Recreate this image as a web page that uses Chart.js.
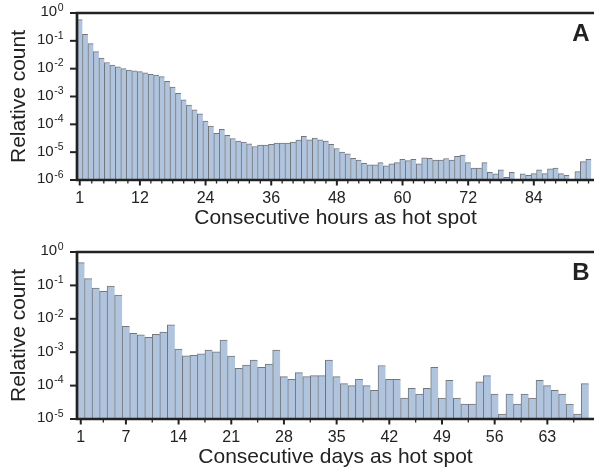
<!DOCTYPE html>
<html>
<head>
<meta charset="utf-8">
<title>Consecutive time as hot spot</title>
<script src="https://cdn.jsdelivr.net/npm/chart.js@4.4.1/dist/chart.umd.min.js"></script>
<style>
  html, body { margin: 0; padding: 0; background: #fff; }
  canvas { display: block; }
</style>
</head>
<body>
<canvas id="panel-a" width="594" height="235"></canvas>
<canvas id="panel-b" width="594" height="236"></canvas>
<script>
// Panel A: run length in hours (1 h bins)
const hourBins = Array.from({ length: 94 }, (_, i) => i + 1);
const hourCounts = [
  0.575, 0.17, 0.079, 0.041, 0.024, 0.0166, 0.0135, 0.0117, 0.0100, 0.0089,
  0.0083, 0.0078, 0.0071, 0.0063, 0.0059, 0.0052, 0.0035, 0.0022, 0.0013, 7.6e-4,
  4.9e-4, 3.3e-4, 2.4e-4, 1.3e-4, 8.7e-5, 4.8e-5, 6.6e-5, 4.0e-5, 3.1e-5, 2.5e-5,
  2.3e-5, 2.0e-5, 1.6e-5, 1.8e-5, 1.8e-5, 1.9e-5, 2.1e-5, 2.1e-5, 2.1e-5, 2.3e-5,
  2.7e-5, 3.7e-5, 2.8e-5, 3.2e-5, 2.8e-5, 2.5e-5, 1.9e-5, 1.35e-5, 1.0e-5, 8.7e-6,
  6.0e-6, 5.2e-6, 4.0e-6, 3.5e-6, 3.5e-6, 4.2e-6, 3.2e-6, 3.8e-6, 4.2e-6, 5.5e-6,
  5.0e-6, 5.5e-6, 3.8e-6, 6.3e-6, 6.0e-6, 5.2e-6, 5.2e-6, 5.9e-6, 5.2e-6, 7.1e-6,
  7.8e-6, 4.2e-6, 2.7e-6, 2.7e-6, 4.2e-6, 1.9e-6, 1.66e-6, 2.3e-6, 1.26e-6, 1.9e-6,
  null, 1.66e-6, 1.48e-6, 1.7e-6, 2.3e-6, 1.7e-6, 2.5e-6, 2.7e-6, 1.7e-6, 1.48e-6,
  null, 2.0e-6, 4.6e-6, 5.5e-6
];
const hourTicks = [1, 12, 24, 36, 48, 60, 72, 84];
const hourMinorTicks = [3.2, 5.4, 7.6, 9.8, 14, 16, 18, 20, 22, 26, 28, 30, 32, 34,
  38, 40, 42, 44, 46, 50, 52, 54, 56, 58, 62, 64, 66, 68, 70, 74, 76, 78, 80, 82,
  86, 88, 90, 92, 94];

// Panel B: run length in days (1 d bins)
const dayBins = Array.from({ length: 68 }, (_, i) => i + 1);
const dayCounts = [
  0.48, 0.16, 0.083, 0.066, 0.095, 0.051, 0.0060, 0.0037, 0.0033, 0.0028,
  0.0034, 0.0040, 0.0066, 0.00123, 7.8e-4, 8.1e-4, 8.9e-4, 1.15e-3, 1.02e-3, 2.3e-3,
  7.6e-4, 3.3e-4, 4.1e-4, 5.8e-4, 3.5e-4, 4.4e-4, 1.15e-3, 1.86e-4, 1.55e-4, 2.45e-4,
  1.86e-4, 2.0e-4, 2.0e-4, 5.8e-4, 1.86e-4, 1.15e-4, 1.0e-4, 1.55e-4, 1.0e-4, 7.2e-5,
  4.0e-4, 1.55e-4, 1.55e-4, 4.2e-5, 8.3e-5, 5.6e-5, 8.3e-5, 3.5e-4, 4.2e-5, 1.45e-4,
  4.2e-5, 2.8e-5, 2.8e-5, 1.3e-4, 2.0e-4, 5.6e-5, 1.4e-5, 5.6e-5, 2.8e-5, 5.6e-5,
  4.2e-5, 1.45e-4, 1.0e-4, 7.2e-5, 5.6e-5, 2.8e-5, 1.4e-5, 1.15e-4
];
const dayTicks = [1, 7, 14, 21, 28, 35, 42, 49, 56, 63];
const dayMinorTicks = [4, 10.5, 17.5, 24.5, 31.5, 38.5, 45.5, 52.5, 59.5, 66.5];

const FONT = "'Liberation Sans', Arial, sans-serif";
const INK = "#222";

// Frame, tick marks, 10^n labels and the panel letter
const panelAxes = {
  id: "panelAxes",
  afterDraw(chart, args, opts) {
    const { ctx, chartArea: area, scales: { x, y } } = chart;
    ctx.save();
    ctx.strokeStyle = INK;
    ctx.lineCap = "butt";

    ctx.lineWidth = 2.7;
    ctx.beginPath();
    ctx.moveTo(area.left - 1.35, area.top);
    ctx.lineTo(area.right, area.top);
    ctx.moveTo(area.left, area.top);
    ctx.lineTo(area.left, area.bottom);
    ctx.moveTo(area.left - 1.35, area.bottom);
    ctx.lineTo(area.right, area.bottom);
    ctx.stroke();

    // decade ticks + labels
    ctx.lineWidth = 2;
    ctx.fillStyle = INK;
    for (let e = opts.minExp; e <= 0; e++) {
      const py = y.getPixelForValue(Math.pow(10, e));
      ctx.beginPath();
      ctx.moveTo(area.left - 7, py);
      ctx.lineTo(area.left, py);
      ctx.stroke();

      const sup = e === 0 ? "0" : "-" + Math.abs(e);
      ctx.font = "10.5px " + FONT;
      const supW = ctx.measureText(sup).width;
      ctx.textAlign = "left";
      ctx.textBaseline = "alphabetic";
      const right = 63.5;
      ctx.fillText(sup, right - supW, py - 2.3);
      ctx.font = "15px " + FONT;
      ctx.textAlign = "right";
      ctx.fillText("10", right - supW - 0.5, py + 3.4);
    }

    // x ticks
    ctx.lineWidth = 2;
    opts.majorTicks.forEach(v => {
      const px = x.getPixelForValue(v);
      ctx.beginPath();
      ctx.moveTo(px, area.bottom);
      ctx.lineTo(px, area.bottom + 5.5);
      ctx.stroke();
    });
    ctx.lineWidth = 1.3;
    opts.minorTicks.forEach(v => {
      const px = x.getPixelForValue(v);
      ctx.beginPath();
      ctx.moveTo(px, area.bottom);
      ctx.lineTo(px, area.bottom + 3.5);
      ctx.stroke();
    });

    ctx.font = "bold 24px " + FONT;
    ctx.textAlign = "right";
    ctx.textBaseline = "alphabetic";
    ctx.fillText(opts.letter, 589.5, area.top + 27.7);
    ctx.restore();
  }
};

function drawPanel(canvasId, p) {
  new Chart(document.getElementById(canvasId), {
    type: "bar",
    data: {
      datasets: [{
        data: p.bins.map((b, i) => ({ x: b, y: p.counts[i] })),
        backgroundColor: "#b0c4de",
        borderColor: "rgba(70, 72, 78, 0.75)",
        borderWidth: { top: 1, left: 1, right: 0, bottom: 0 },
        borderSkipped: false,
        categoryPercentage: 1,
        barPercentage: 1
      }]
    },
    options: {
      responsive: false,
      animation: false,
      layout: { padding: { top: p.top, right: 0, bottom: 0, left: 0 } },
      plugins: {
        legend: { display: false },
        tooltip: { enabled: false },
        panelAxes: {
          minExp: p.minExp,
          majorTicks: p.ticks,
          minorTicks: p.minorTicks,
          letter: p.letter
        }
      },
      scales: {
        x: {
          type: "linear",
          min: 0.5,
          max: p.xMax,
          offset: false,
          grid: { display: false, drawTicks: false, offset: false },
          border: { display: false },
          afterBuildTicks: s => { s.ticks = p.ticks.map(v => ({ value: v })); },
          afterFit: s => { s.height = p.xHeight; },
          ticks: {
            autoSkip: false,
            maxRotation: 0,
            padding: 9,
            color: INK,
            font: { family: FONT, size: 16, lineHeight: 1.2 },
            callback: v => String(v)
          },
          title: {
            display: true,
            text: p.title,
            color: INK,
            font: { family: FONT, size: 21, lineHeight: 1.2 },
            padding: { top: 0, bottom: p.titlePad }
          }
        },
        y: {
          type: "logarithmic",
          min: Math.pow(10, p.minExp),
          max: 1,
          grid: { display: false, drawTicks: false },
          border: { display: false },
          ticks: { display: false },
          afterFit: s => { s.width = 77; },
          title: {
            display: true,
            text: "Relative count",
            color: INK,
            font: { family: FONT, size: 21, lineHeight: 1.2 },
            padding: { top: 7, bottom: 0 }
          }
        }
      }
    },
    plugins: [panelAxes]
  });
}

drawPanel("panel-a", {
  bins: hourBins, counts: hourCounts, ticks: hourTicks, minorTicks: hourMinorTicks,
  xMax: 95.0, minExp: -6, letter: "A", title: "Consecutive hours as hot spot",
  top: 13, xHeight: 55, titlePad: 4
});

drawPanel("panel-b", {
  bins: dayBins, counts: dayCounts, ticks: dayTicks, minorTicks: dayMinorTicks,
  xMax: 69.2, minExp: -5, letter: "B", title: "Consecutive days as hot spot",
  top: 17, xHeight: 52, titlePad: 1
});
</script>
</body>
</html>
